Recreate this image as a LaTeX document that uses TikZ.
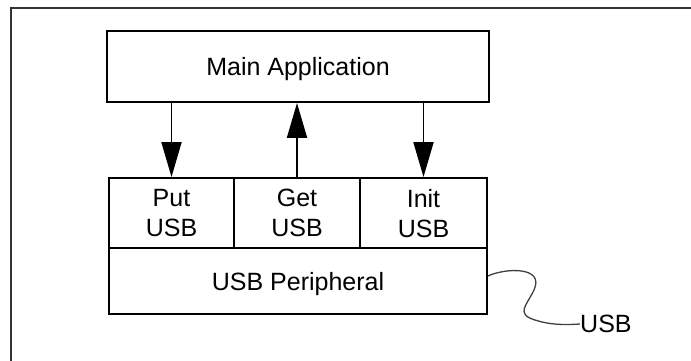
\documentclass[tikz,border=0pt]{standalone}
\usepackage{fontspec}
\setmainfont{Liberation Sans}
\usetikzlibrary{arrows.meta}
\begin{document}
\begin{tikzpicture}[x=1pt,y=-1pt,
  every node/.style={font=\fontsize{25}{30}\selectfont, inner sep=0pt},
  block/.style={draw, line width=1.9pt, rectangle, align=center, text depth=0pt},
  flow/.style={line width=1.9pt, -{Triangle[length=35pt,width=20pt]}},
  cable/.style={line width=1.3pt, black!75}]
  \useasboundingbox (0,0) rectangle (691,361);
  % open outer frame
  \draw[line width=2.4pt, black!80] (11,361) -- (11,8) -- (691,8);

  % software blocks
  \node[block, minimum width=382pt, minimum height=71pt] (main) at (298,66.5) {Main Application};
  \node[block, minimum width=125pt, minimum height=70pt] (put)  at (171.5,213) {Put\\USB};
  \node[block, minimum width=126pt, minimum height=70pt] (get)  at (297,213) {Get\\USB};
  \node[block, minimum width=127pt, minimum height=70pt] (init) at (423.5,213) {Init\\USB};
  \node[block, minimum width=378pt, minimum height=66pt] (periph) at (298,281) {USB Peripheral};

  % calls between the application and the driver
  \draw[flow] (put.north |- main.south) -- (put.north);
  \draw[flow] (get.north) -- (get.north |- main.south);
  \draw[flow] (init.north |- main.south) -- (init.north);

  % bus cable
  \node[anchor=west] (bus) at (580,324) {USB};
  \coordinate (plug) at (periph.east |- 0,276);
  \draw[cable] (plug) .. controls (505,268) and (545,266) .. (534,290)
    .. controls (527,305) and (515,314) .. (535,320)
    .. controls (550,325) and (565,325) .. (bus.west);
\end{tikzpicture}
\end{document}
